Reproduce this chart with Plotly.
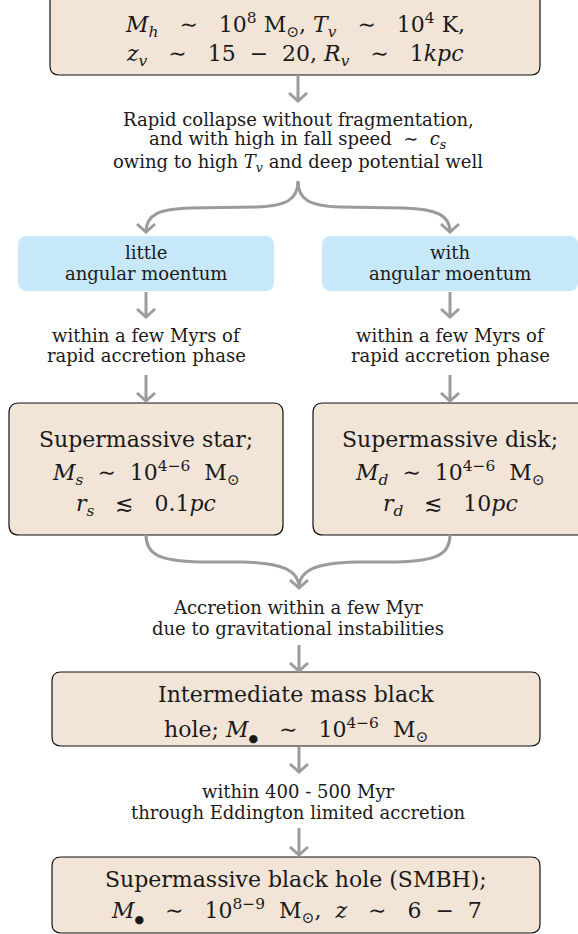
import plotly.graph_objects as go

S = "&nbsp;"
BUL = '<span style="font-size:11px">●</span>'
# ---- content (text) ----
top_box_lines = [
    f"<i>M</i><sub><i>h</i></sub> {S}{S}∼{S}{S} 10<sup>8</sup> M<sub>⊙</sub>, <i>T</i><sub><i>v</i></sub> {S}{S}∼{S}{S} 10<sup>4</sup> K,",
    f"<i>z</i><sub><i>v</i></sub> {S}{S}∼{S}{S} 15 {S}−{S} 20, <i>R</i><sub><i>v</i></sub> {S}{S}∼{S}{S} 1<i>kpc</i>",
]
collapse_lines = [
    "Rapid collapse without fragmentation,",
    f"and with high in fall speed {S}∼{S} <i>c</i><sub><i>s</i></sub>",
    "owing to high <i>T</i><sub><i>v</i></sub> and deep potential well",
]
blue_left_lines = ["little", "angular moentum"]
blue_right_lines = ["with", "angular moentum"]
phase_lines = ["within a few Myrs of", "rapid accretion phase"]
star_lines = [
    "Supermassive star;",
    f"<i>M</i><sub><i>s</i></sub> {S}∼{S} 10<sup>4−6</sup> {S}M<sub>⊙</sub>",
    f"<i>r</i><sub><i>s</i></sub> {S}{S}≲{S}{S} 0.1<i>pc</i>",
]
disk_lines = [
    "Supermassive disk;",
    f"<i>M</i><sub><i>d</i></sub> {S}∼{S} 10<sup>4−6</sup> {S}M<sub>⊙</sub>",
    f"<i>r</i><sub><i>d</i></sub> {S}{S}≲{S}{S} 10<i>pc</i>",
]
accretion_lines = ["Accretion within a few Myr", "due to gravitational instabilities"]
imbh_lines = [
    "Intermediate mass black",
    f"hole; <i>M</i><sub>{BUL}</sub> {S}{S}∼{S}{S} 10<sup>4−6</sup> {S}M<sub>⊙</sub>",
]
edd_lines = ["within 400 - 500 Myr", "through Eddington limited accretion"]
smbh_lines = [
    "Supermassive black hole (SMBH);",
    f"<i>M</i><sub>{BUL}</sub> {S}{S}∼{S}{S} 10<sup>8−9</sup> {S}M<sub>⊙</sub>,{S} <i>z</i> {S}{S}∼{S}{S} 6 {S}−{S} 7",
]

# ---- layout / style ----
W, H = 578, 934
BEIGE = "#F2E5D8"
BLUE = "#C6E8F8"
GRAY = "#9B9B9B"
TXT = "#1a1a1a"
FONT = "DejaVu Serif"
SMALL = 18
BIG = 22

shapes = []
annotations = []


def rrect(x0, y0, x1, y1, r, fill, line_color=None, lw=1.2):
    p = (f"M {x0+r},{y0} L {x1-r},{y0} Q {x1},{y0} {x1},{y0+r} "
         f"L {x1},{y1-r} Q {x1},{y1} {x1-r},{y1} L {x0+r},{y1} "
         f"Q {x0},{y1} {x0},{y1-r} L {x0},{y0+r} Q {x0},{y0} {x0+r},{y0} Z")
    shapes.append(dict(type="path", path=p, xref="x", yref="y", fillcolor=fill,
                       line=dict(color=line_color or fill, width=lw if line_color else 0),
                       layer="below"))


def curve(path):
    shapes.append(dict(type="path", path=path, xref="x", yref="y",
                       line=dict(color=GRAY, width=3)))


def head(x, tip):
    curve(f"M {x-9},{tip-8} L {x},{tip} L {x+9},{tip-8}")


def arrow(x, y0, y1):
    curve(f"M {x},{y0} L {x},{y1}")
    head(x, y1)


def text_lines(lines, x, ys, size):
    for t, y in zip(lines, ys):
        annotations.append(dict(text=t, x=x, y=y, xref="x", yref="y", showarrow=False,
                                xanchor="center", yanchor="middle",
                                font=dict(family=FONT, size=size, color=TXT)))


# boxes
rrect(50, -10, 540, 75, 9, BEIGE, "#111111")
rrect(18, 236, 274, 291, 9, BLUE)
rrect(322, 236, 578, 291, 9, BLUE)
rrect(9, 403, 283, 535, 10, BEIGE, "#111111")
rrect(313, 403, 590, 535, 10, BEIGE, "#111111")
rrect(52, 672, 540, 746, 9, BEIGE, "#111111")
rrect(52, 857, 540, 933, 9, BEIGE, "#111111")

# straight arrows
arrow(298, 75, 101)
arrow(146, 292, 317)
arrow(450, 292, 317)
arrow(146, 375, 401)
arrow(450, 375, 401)
arrow(299, 645, 671)
arrow(299, 747, 772)
arrow(299, 828, 855)

# split brace
curve("M 298,181 C 298,200 286,206 256,207 L 190,208 C 160,209 146,214 146,232")
curve("M 298,181 C 298,200 310,206 340,207 L 404,208 C 434,209 450,214 450,232")
head(146, 232)
head(450, 232)

# merge brace
curve("M 146,535 C 146,555 160,561 200,562 L 242,562 C 282,563 299,570 299,588")
curve("M 450,535 C 450,555 436,561 396,562 L 356,562 C 316,563 299,570 299,588")
head(299, 588)

# texts
text_lines(top_box_lines, 295, [25, 55], BIG)
text_lines(collapse_lines, 298, [119, 140, 163], SMALL)
text_lines(blue_left_lines, 146, [252, 273], SMALL)
text_lines(blue_right_lines, 450, [252, 273], SMALL)
text_lines(phase_lines, 146, [335, 355], SMALL)
text_lines(phase_lines, 450, [335, 355], SMALL)
text_lines(star_lines, 146, [439, 473, 505], BIG)
text_lines(disk_lines, 450, [439, 473, 505], BIG)
text_lines(accretion_lines, 298, [607, 628], SMALL)
text_lines(imbh_lines, 296, [694, 730], BIG)
text_lines(edd_lines, 298, [791, 812], SMALL)
text_lines(smbh_lines, 296, [879, 911], BIG)

fig = go.Figure()
fig.update_layout(
    width=W, height=H,
    margin=dict(l=0, r=0, t=0, b=0),
    paper_bgcolor="white", plot_bgcolor="white",
    xaxis=dict(range=[0, W], visible=False, fixedrange=True),
    yaxis=dict(range=[H, 0], visible=False, fixedrange=True),
    shapes=shapes, annotations=annotations, showlegend=False,
)
fig.write_html("out.html", config={"displayModeBar": False},
               post_script="document.body.style.margin='0';document.body.style.overflow='hidden';")
